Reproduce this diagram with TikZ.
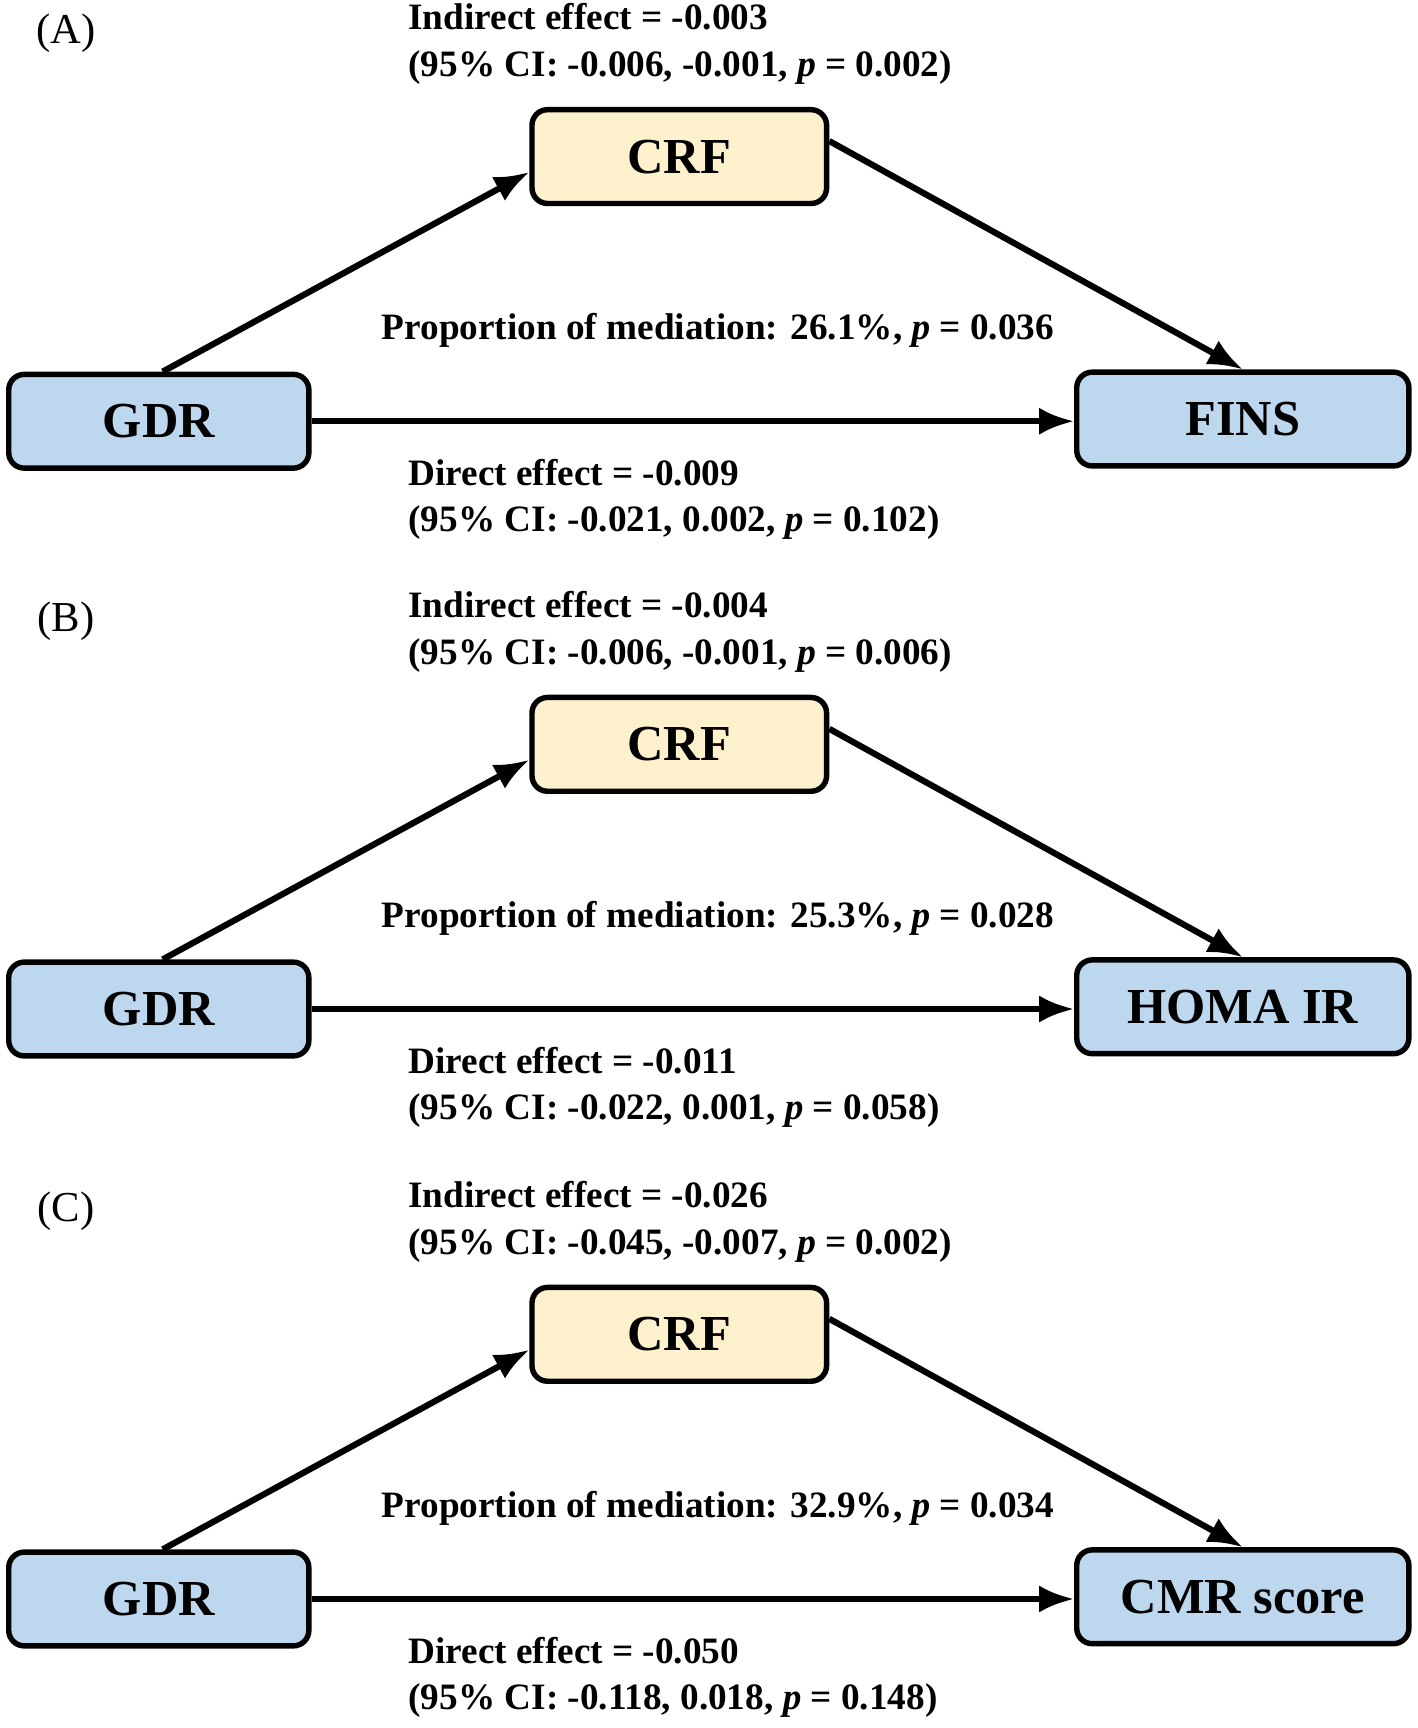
\documentclass[tikz,border=0pt]{standalone}
\usepackage{fontspec}
\setmainfont{Liberation Serif}
\usetikzlibrary{arrows.meta,positioning}
\definecolor{boxblue}{RGB}{189,215,238}
\definecolor{boxyellow}{RGB}{253,240,204}
\tikzset{
  var/.style={rectangle,rounded corners=4pt,draw=black,line width=1.4pt,minimum height=0.85cm,font=\fontsize{13}{15}\selectfont\bfseries},
  txt/.style={font=\fontsize{9.6}{12}\selectfont\bfseries,align=left},
  link/.style={-{Latex[length=9pt,width=7pt]},line width=1.6pt}
}
\begin{document}
\begin{tikzpicture}[x=0.01cm,y=-0.01cm]
\useasboundingbox (0,0) rectangle (1285,1567);
%-------------------- panels --------------------
\foreach \dy/\lab/\out/\ind/\ci/\prop/\dir/\cid [count=\i] in {
  0/A/FINS/-0.003/{-0.006, -0.001, \textit{p} = 0.002}/{26.1\%, \textit{p} = 0.036}/-0.009/{-0.021, 0.002, \textit{p} = 0.102},
  533/B/HOMA IR/-0.004/{-0.006, -0.001, \textit{p} = 0.006}/{25.3\%, \textit{p} = 0.028}/-0.011/{-0.022, 0.001, \textit{p} = 0.058},
  1068/C/CMR score/-0.026/{-0.045, -0.007, \textit{p} = 0.002}/{32.9\%, \textit{p} = 0.034}/-0.050/{-0.118, 0.018, \textit{p} = 0.148}}{
  \begin{scope}[yshift=-\dy*0.01cm]
    \node[font=\fontsize{11}{13}\selectfont] (tag\i) at (60,30) {(\lab)};
    % boxes
    \node[var,fill=boxyellow,minimum width=2.67cm] (crf\i) at (616,142) {CRF};
    \node[var,fill=boxblue,minimum width=2.72cm] (gdr\i) at (144,382) {GDR};
    \node[var,fill=boxblue,minimum width=3.01cm] (out\i) at (1127,380) {\out};
    % labels
    \node[txt,anchor=west] (ind\i) at (358,40) {Indirect effect = \ind\\(95\% CI: \ci)};
    \node[txt] (prop\i) at (651,300) {Proportion of mediation: \prop};
    \node[txt,anchor=west] (dir\i) at (358,453) {Direct effect = \dir\\(95\% CI: \cid)};
    % paths
    \draw[link] ([xshift=1pt]gdr\i.north) -- ([yshift=-4pt]crf\i.west);
    \draw[link] ([yshift=4pt]crf\i.east) -- (out\i.north);
    \draw[link] (gdr\i.east) -- (gdr\i.east -| out\i.west);
  \end{scope}
}
\end{tikzpicture}
\end{document}
